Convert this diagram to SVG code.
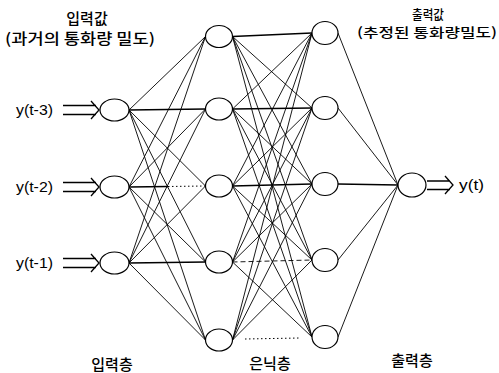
<svg xmlns="http://www.w3.org/2000/svg" width="499" height="373" viewBox="0 0 499 373">
<style>
.n{fill:#fff;stroke:#000;stroke-width:1.2}
.c line{stroke:#000;stroke-width:0.9}
.c line.h{stroke-width:1.5}
.c line.d{stroke-dasharray:5,3}
.c line.dot{stroke-dasharray:1.5,2.5;stroke-width:1}
.k{font-family:"Noto Sans CJK KR","Noto Sans",sans-serif;font-size:15px;font-weight:500;fill:#000;text-anchor:middle}
.s{font-size:13px}
.v{font-family:"Liberation Sans",Arial,sans-serif;font-size:15px;fill:#000}
.a{fill:none;stroke:#000;stroke-width:1.3}
</style>
<rect width="499" height="373" fill="#fff"/>
<g class="c" id="connectors">
<line x1="129" y1="110" x2="205.5" y2="36.5"/>
<line class="h" x1="129" y1="110" x2="205.5" y2="109"/>
<line x1="129" y1="110" x2="205.5" y2="186"/>
<line x1="129" y1="110" x2="205.5" y2="262"/>
<line x1="129" y1="110" x2="205.5" y2="340"/>
<line x1="129" y1="187" x2="205.5" y2="36.5"/>
<line x1="129" y1="187" x2="205.5" y2="109"/>
<line class="h" x1="129" y1="187" x2="168" y2="186.5"/>
<line class="dot" x1="168" y1="186.5" x2="205.5" y2="186"/>
<line x1="129" y1="187" x2="205.5" y2="262"/>
<line x1="129" y1="187" x2="205.5" y2="340"/>
<line x1="129" y1="263" x2="205.5" y2="36.5"/>
<line x1="129" y1="263" x2="205.5" y2="109"/>
<line x1="129" y1="263" x2="205.5" y2="186"/>
<line class="h" x1="129" y1="263" x2="205.5" y2="262"/>
<line x1="129" y1="263" x2="205.5" y2="340"/>
<line class="h" x1="232.5" y1="36.5" x2="312" y2="33"/>
<line x1="232.5" y1="36.5" x2="312" y2="108"/>
<line x1="232.5" y1="36.5" x2="312" y2="184"/>
<line x1="232.5" y1="36.5" x2="312" y2="260"/>
<line x1="232.5" y1="36.5" x2="312" y2="337"/>
<line x1="232.5" y1="109" x2="312" y2="33"/>
<line class="h" x1="232.5" y1="109" x2="312" y2="108"/>
<line x1="232.5" y1="109" x2="312" y2="184"/>
<line x1="232.5" y1="109" x2="312" y2="260"/>
<line x1="232.5" y1="109" x2="312" y2="337"/>
<line x1="232.5" y1="186" x2="312" y2="33"/>
<line x1="232.5" y1="186" x2="312" y2="108"/>
<line class="h" x1="232.5" y1="186" x2="312" y2="184"/>
<line x1="232.5" y1="186" x2="312" y2="260"/>
<line x1="232.5" y1="186" x2="312" y2="337"/>
<line x1="232.5" y1="262" x2="312" y2="33"/>
<line x1="232.5" y1="262" x2="312" y2="108"/>
<line x1="232.5" y1="262" x2="312" y2="184"/>
<line class="d" x1="232.5" y1="262" x2="312" y2="260"/>
<line x1="232.5" y1="262" x2="312" y2="337"/>
<line x1="232.5" y1="340" x2="312" y2="33"/>
<line x1="232.5" y1="340" x2="312" y2="108"/>
<line x1="232.5" y1="340" x2="312" y2="184"/>
<line x1="232.5" y1="340" x2="312" y2="260"/>
<line class="dot" x1="245" y1="339" x2="300" y2="338"/>
<line x1="338" y1="33" x2="398" y2="185"/>
<line x1="338" y1="108" x2="398" y2="185"/>
<line class="h" x1="338" y1="184" x2="398" y2="185"/>
<line x1="338" y1="260" x2="398" y2="185"/>
<line x1="338" y1="337" x2="398" y2="185"/>
</g>
<g id="in1"><ellipse class="n" cx="114.5" cy="110" rx="14.5" ry="11"/></g>
<g id="in2"><ellipse class="n" cx="114.5" cy="187" rx="14.5" ry="11"/></g>
<g id="in3"><ellipse class="n" cx="114.5" cy="263" rx="14.5" ry="11"/></g>
<g id="h1"><ellipse class="n" cx="219" cy="36.5" rx="13.5" ry="11"/></g>
<g id="h2"><ellipse class="n" cx="219" cy="109" rx="13.5" ry="11"/></g>
<g id="h3"><ellipse class="n" cx="219" cy="186" rx="13.5" ry="11"/></g>
<g id="h4"><ellipse class="n" cx="219" cy="262" rx="13.5" ry="11"/></g>
<g id="h5"><ellipse class="n" cx="219" cy="340" rx="13.5" ry="11"/></g>
<g id="g1"><ellipse class="n" cx="325" cy="33" rx="13" ry="11.5"/></g>
<g id="g2"><ellipse class="n" cx="325" cy="108" rx="13" ry="11.5"/></g>
<g id="g3"><ellipse class="n" cx="325" cy="184" rx="13" ry="11.5"/></g>
<g id="g4"><ellipse class="n" cx="325" cy="260" rx="13" ry="11.5"/></g>
<g id="g5"><ellipse class="n" cx="325" cy="337" rx="13" ry="11.5"/></g>
<g id="out"><ellipse class="n" cx="412" cy="185" rx="14" ry="12"/></g>
<g id="arrows">
<path class="a" d="M63,105.5H96M63,114.5H96M91,101L99,110L91,119"/>
<path class="a" d="M63,182.5H96M63,191.5H96M91,178L99,187L91,196"/>
<path class="a" d="M63,258.5H96M63,267.5H96M91,254L99,263L91,272"/>
<path class="a" d="M427,181H450M427,189.5H450M445,176L453,185L445,194"/>
</g>
<g id="labels">
<text class="v" x="16" y="115" textLength="37" lengthAdjust="spacingAndGlyphs">y(t-3)</text>
<text class="v" x="16" y="192" textLength="37" lengthAdjust="spacingAndGlyphs">y(t-2)</text>
<text class="v" x="16" y="268" textLength="37" lengthAdjust="spacingAndGlyphs">y(t-1)</text>
<text class="v" x="459" y="190" textLength="25" lengthAdjust="spacingAndGlyphs">y(t)</text>
<text class="k" x="87" y="24">입력값</text>
<text class="k" x="80" y="44" textLength="150" lengthAdjust="spacingAndGlyphs">(과거의  통화량 밀도)</text>
<text class="k s" x="428" y="19" textLength="32" lengthAdjust="spacingAndGlyphs">출력값</text>
<text class="k s" x="427" y="37" textLength="140" lengthAdjust="spacingAndGlyphs">(추정된  통화량밀도)</text>
<text class="k" x="112" y="370">입력층</text>
<text class="k" x="270" y="369">은닉층</text>
<text class="k" x="412" y="366">출력층</text>
</g>
</svg>
